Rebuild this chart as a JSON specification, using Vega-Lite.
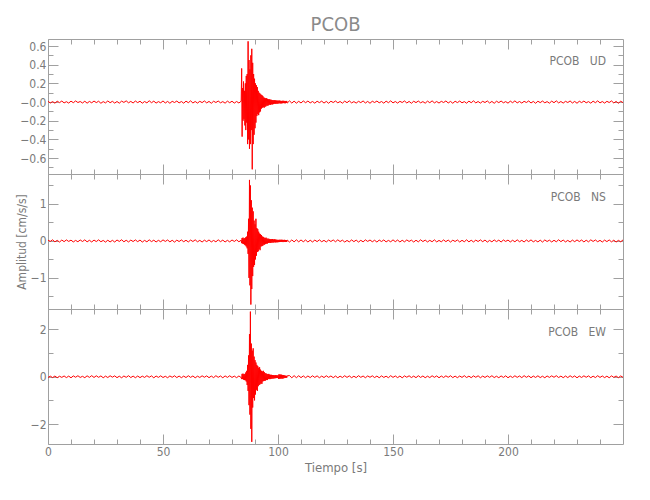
{
"$schema": "https://vega.github.io/schema/vega-lite/v6.json",
"padding": {"left": 15, "top": 14, "right": 5, "bottom": 5},
"background": "white",
"spacing": 0,
"bounds": "flush",
"config": {
 "font": "Liberation Sans Narrow, DejaVu Sans Condensed, sans-serif",
 "view": {"stroke": null},
 "axis": {"grid": false, "minExtent": 0, "domainColor": "#a0a0a0", "tickColor": "#a0a0a0", "labelColor": "#7a7a7a", "labelFontSize": 12, "labelFont": "Liberation Sans Narrow, DejaVu Sans Condensed, sans-serif", "titleFont": "Liberation Sans Narrow, DejaVu Sans Condensed, sans-serif", "titleColor": "#7a7a7a", "titleFontSize": 13, "titleFontWeight": "normal", "labelFlush": false, "labelOverlap": false}
},
"data": {"values": [
{"t":0,"u":0.008,"n":0.021,"e":-0.033},
{"t":1,"u":-0.010,"n":-0.012,"e":0.024},
{"t":2,"u":0.005,"n":0.031,"e":-0.036},
{"t":3,"u":-0.012,"n":-0.024,"e":0.030},
{"t":4,"u":0.009,"n":0.016,"e":-0.042},
{"t":5,"u":-0.006,"n":-0.030,"e":0.021},
{"t":6,"u":0.011,"n":0.025,"e":-0.028},
{"t":7,"u":-0.009,"n":-0.019,"e":0.033},
{"t":8,"u":0.004,"n":0.028,"e":-0.037},
{"t":9,"u":-0.011,"n":-0.013,"e":0.027},
{"t":10,"u":0.010,"n":0.022,"e":-0.045},
{"t":11,"u":-0.007,"n":-0.027,"e":0.036},
{"t":12,"u":0.012,"n":0.015,"e":-0.022},
{"t":13,"u":-0.005,"n":-0.022,"e":0.042},
{"t":14,"u":0.006,"n":0.027,"e":-0.030},
{"t":15,"u":-0.010,"n":-0.015,"e":0.018},
{"t":16,"u":0.009,"n":0.030,"e":-0.040},
{"t":17,"u":-0.012,"n":-0.025,"e":0.039},
{"t":18,"u":0.007,"n":0.018,"e":-0.027},
{"t":19,"u":-0.008,"n":-0.028,"e":0.045},
{"t":20,"u":0.011,"n":0.024,"e":-0.031},
{"t":21,"u":-0.006,"n":-0.017,"e":0.040},
{"t":22,"u":0.009,"n":0.029,"e":-0.025},
{"t":23,"u":-0.013,"n":-0.021,"e":0.035},
{"t":24,"u":0.005,"n":0.014,"e":-0.044},
{"t":25,"u":-0.009,"n":-0.031,"e":0.026},
{"t":26,"u":0.012,"n":0.020,"e":-0.034},
{"t":27,"u":-0.007,"n":-0.026,"e":0.041},
{"t":28,"u":0.008,"n":0.017,"e":-0.019},
{"t":29,"u":-0.011,"n":-0.029,"e":0.037},
{"t":30,"u":0.006,"n":0.026,"e":-0.039},
{"t":31,"u":-0.012,"n":-0.014,"e":0.023},
{"t":32,"u":0.010,"n":0.032,"e":-0.043},
{"t":33,"u":-0.004,"n":-0.023,"e":0.032},
{"t":34,"u":0.013,"n":0.019,"e":-0.026},
{"t":35,"u":-0.008,"n":-0.027,"e":0.044},
{"t":36,"u":0.007,"n":0.023,"e":-0.035},
{"t":37,"u":-0.010,"n":-0.016,"e":0.028},
{"t":38,"u":0.011,"n":0.028,"e":-0.041},
{"t":39,"u":-0.006,"n":-0.020,"e":0.030},
{"t":40,"u":0.009,"n":0.025,"e":-0.038},
{"t":41,"u":-0.012,"n":-0.030,"e":0.025},
{"t":42,"u":0.006,"n":0.015,"e":-0.029},
{"t":43,"u":-0.009,"n":-0.024,"e":0.043},
{"t":44,"u":0.014,"n":0.030,"e":-0.024},
{"t":45,"u":-0.007,"n":-0.018,"e":0.036},
{"t":46,"u":0.010,"n":0.021,"e":-0.046},
{"t":47,"u":-0.011,"n":-0.028,"e":0.031},
{"t":48,"u":0.005,"n":0.017,"e":-0.027},
{"t":49,"u":-0.008,"n":-0.022,"e":0.038},
{"t":50,"u":0.012,"n":0.029,"e":-0.033},
{"t":51,"u":-0.010,"n":-0.013,"e":0.020},
{"t":52,"u":0.007,"n":0.026,"e":-0.042},
{"t":53,"u":-0.013,"n":-0.025,"e":0.034},
{"t":54,"u":0.008,"n":0.018,"e":-0.023},
{"t":55,"u":-0.005,"n":-0.031,"e":0.040},
{"t":56,"u":0.011,"n":0.022,"e":-0.036},
{"t":57,"u":-0.009,"n":-0.016,"e":0.029},
{"t":58,"u":0.006,"n":0.027,"e":-0.040},
{"t":59,"u":-0.012,"n":-0.021,"e":0.026},
{"t":60,"u":0.010,"n":0.019,"e":-0.034},
{"t":61,"u":-0.007,"n":-0.027,"e":0.042},
{"t":62,"u":0.013,"n":0.024,"e":-0.027},
{"t":63,"u":-0.010,"n":-0.015,"e":0.033},
{"t":64,"u":0.006,"n":0.030,"e":-0.045},
{"t":65,"u":-0.011,"n":-0.023,"e":0.024},
{"t":66,"u":0.008,"n":0.016,"e":-0.031},
{"t":67,"u":-0.006,"n":-0.029,"e":0.039},
{"t":68,"u":0.012,"n":0.021,"e":-0.022},
{"t":69,"u":-0.009,"n":-0.018,"e":0.036},
{"t":70,"u":0.007,"n":0.028,"e":-0.040},
{"t":71,"u":-0.013,"n":-0.026,"e":0.028},
{"t":72,"u":0.009,"n":0.014,"e":-0.037},
{"t":73,"u":-0.005,"n":-0.024,"e":0.044},
{"t":74,"u":0.011,"n":0.031,"e":-0.025},
{"t":75,"u":-0.008,"n":-0.019,"e":0.032},
{"t":76,"u":0.005,"n":0.023,"e":-0.043},
{"t":77,"u":-0.012,"n":-0.028,"e":0.035},
{"t":78,"u":0.010,"n":0.017,"e":-0.028},
{"t":79,"u":-0.007,"n":-0.025,"e":0.041},
{"t":80,"u":0.009,"n":0.026,"e":-0.030},
{"t":81,"u":-0.011,"n":-0.014,"e":0.026},
{"t":82,"u":0.006,"n":0.029,"e":-0.039},
{"t":83,"u":-0.010,"n":-0.022,"e":0.033},
{"t":84.0,"u":0.010,"n":0.020,"e":-0.035},
{"t":84.2,"u":0.360,"n":-0.060,"e":-0.100},
{"t":84.4,"u":-0.370,"n":0.080,"e":0.120},
{"t":84.6,"u":0.150,"n":-0.070,"e":-0.100},
{"t":84.8,"u":-0.200,"n":0.090,"e":0.130},
{"t":85.0,"u":0.220,"n":-0.080,"e":-0.120},
{"t":85.2,"u":-0.180,"n":0.060,"e":0.100},
{"t":85.4,"u":0.120,"n":-0.100,"e":-0.140},
{"t":85.6,"u":-0.250,"n":0.080,"e":0.120},
{"t":85.8,"u":0.200,"n":-0.120,"e":-0.150},
{"t":86.0,"u":-0.300,"n":0.100,"e":0.180},
{"t":86.2,"u":0.280,"n":-0.150,"e":-0.200},
{"t":86.4,"u":-0.220,"n":0.120,"e":0.250},
{"t":86.6,"u":0.300,"n":-0.200,"e":-0.350},
{"t":86.8,"u":-0.450,"n":0.250,"e":0.500},
{"t":87.0,"u":0.650,"n":-0.350,"e":-0.600},
{"t":87.2,"u":-0.400,"n":0.600,"e":0.900},
{"t":87.4,"u":0.450,"n":-1.000,"e":-1.200},
{"t":87.6,"u":-0.500,"n":1.650,"e":1.800},
{"t":87.8,"u":0.350,"n":-1.200,"e":-1.600},
{"t":88.0,"u":-0.450,"n":1.500,"e":2.750},
{"t":88.2,"u":0.500,"n":-1.720,"e":-2.200},
{"t":88.4,"u":-0.300,"n":1.100,"e":1.400},
{"t":88.6,"u":0.570,"n":-1.300,"e":-2.750},
{"t":88.8,"u":-0.720,"n":0.900,"e":1.100},
{"t":89.0,"u":0.420,"n":-0.950,"e":-1.300},
{"t":89.2,"u":-0.450,"n":0.800,"e":1.200},
{"t":89.4,"u":0.300,"n":-0.700,"e":-0.900},
{"t":89.6,"u":-0.350,"n":0.550,"e":0.850},
{"t":89.8,"u":0.250,"n":-0.650,"e":-1.000},
{"t":90.0,"u":-0.280,"n":0.450,"e":0.700},
{"t":90.2,"u":0.200,"n":-0.500,"e":-0.750},
{"t":90.4,"u":-0.220,"n":0.600,"e":0.600},
{"t":90.6,"u":0.180,"n":-0.400,"e":-0.550},
{"t":90.8,"u":-0.150,"n":0.350,"e":0.500},
{"t":91.0,"u":0.160,"n":-0.300,"e":-0.600},
{"t":91.2,"u":-0.130,"n":0.320,"e":0.450},
{"t":91.4,"u":0.120,"n":-0.280,"e":-0.400},
{"t":91.6,"u":-0.140,"n":0.250,"e":0.380},
{"t":91.8,"u":0.100,"n":-0.220,"e":-0.350},
{"t":92.0,"u":-0.110,"n":0.200,"e":0.400},
{"t":92.2,"u":0.090,"n":-0.250,"e":-0.320},
{"t":92.4,"u":-0.100,"n":0.180,"e":0.300},
{"t":92.6,"u":0.080,"n":-0.150,"e":-0.280},
{"t":92.8,"u":-0.070,"n":0.160,"e":0.250},
{"t":93.0,"u":0.075,"n":-0.140,"e":-0.300},
{"t":93.2,"u":-0.060,"n":0.120,"e":0.220},
{"t":93.4,"u":0.065,"n":-0.130,"e":-0.200},
{"t":93.6,"u":-0.055,"n":0.110,"e":0.250},
{"t":93.8,"u":0.050,"n":-0.100,"e":-0.180},
{"t":94.0,"u":-0.060,"n":0.090,"e":0.200},
{"t":94.2,"u":0.045,"n":-0.100,"e":-0.170},
{"t":94.4,"u":-0.050,"n":0.080,"e":0.150},
{"t":94.6,"u":0.040,"n":-0.080,"e":-0.160},
{"t":94.8,"u":-0.045,"n":0.090,"e":0.140},
{"t":95.0,"u":0.040,"n":-0.070,"e":-0.130},
{"t":95.2,"u":-0.035,"n":0.065,"e":0.120},
{"t":95.4,"u":0.035,"n":-0.070,"e":-0.140},
{"t":95.6,"u":-0.040,"n":0.060,"e":0.110},
{"t":95.8,"u":0.030,"n":-0.055,"e":-0.100},
{"t":96.0,"u":-0.032,"n":0.060,"e":0.120},
{"t":96.2,"u":0.030,"n":-0.050,"e":-0.100},
{"t":96.4,"u":-0.028,"n":0.050,"e":0.090},
{"t":96.6,"u":0.026,"n":-0.055,"e":-0.100},
{"t":96.8,"u":-0.030,"n":0.045,"e":0.080},
{"t":97.0,"u":0.025,"n":-0.050,"e":-0.090},
{"t":97.2,"u":-0.024,"n":0.045,"e":0.080},
{"t":97.4,"u":0.022,"n":-0.040,"e":-0.075},
{"t":97.6,"u":-0.025,"n":0.050,"e":0.070},
{"t":97.8,"u":0.020,"n":-0.045,"e":-0.080},
{"t":98.0,"u":-0.022,"n":0.040,"e":0.065},
{"t":98.2,"u":0.020,"n":-0.040,"e":-0.070},
{"t":98.4,"u":-0.018,"n":0.045,"e":0.060},
{"t":98.6,"u":0.020,"n":-0.035,"e":-0.065},
{"t":98.8,"u":-0.019,"n":0.040,"e":0.070},
{"t":99.0,"u":0.018,"n":-0.040,"e":-0.060},
{"t":99.2,"u":-0.017,"n":0.035,"e":0.065},
{"t":99.4,"u":0.016,"n":-0.035,"e":-0.055},
{"t":99.6,"u":-0.018,"n":0.030,"e":0.060},
{"t":99.8,"u":0.015,"n":-0.035,"e":-0.050},
{"t":100.0,"u":-0.016,"n":0.030,"e":0.055},
{"t":100.2,"u":0.015,"n":-0.032,"e":-0.090},
{"t":100.4,"u":-0.014,"n":0.028,"e":0.100},
{"t":100.6,"u":0.016,"n":-0.030,"e":-0.085},
{"t":100.8,"u":-0.013,"n":0.033,"e":0.095},
{"t":101.0,"u":0.014,"n":-0.027,"e":-0.080},
{"t":101.2,"u":-0.015,"n":0.030,"e":0.090},
{"t":101.4,"u":0.012,"n":-0.028,"e":-0.075},
{"t":101.6,"u":-0.014,"n":0.032,"e":0.085},
{"t":101.8,"u":0.013,"n":-0.026,"e":-0.080},
{"t":102.0,"u":-0.012,"n":0.029,"e":0.070},
{"t":102.2,"u":0.014,"n":-0.031,"e":-0.075},
{"t":102.4,"u":-0.011,"n":0.027,"e":0.065},
{"t":102.6,"u":0.013,"n":-0.025,"e":-0.060},
{"t":102.8,"u":-0.012,"n":0.030,"e":0.055},
{"t":103.0,"u":0.011,"n":-0.028,"e":-0.050},
{"t":103.2,"u":-0.013,"n":0.026,"e":0.045},
{"t":103.4,"u":0.012,"n":-0.029,"e":-0.050},
{"t":103.6,"u":-0.010,"n":0.024,"e":0.040},
{"t":103.8,"u":0.012,"n":-0.027,"e":-0.042},
{"t":104.0,"u":-0.011,"n":0.025,"e":0.038},
{"t":105,"u":0.013,"n":-0.030,"e":0.048},
{"t":106,"u":-0.011,"n":0.028,"e":-0.044},
{"t":107,"u":0.010,"n":-0.025,"e":0.046},
{"t":108,"u":-0.012,"n":0.031,"e":-0.040},
{"t":109,"u":0.008,"n":-0.024,"e":0.042},
{"t":110,"u":-0.010,"n":0.027,"e":-0.038},
{"t":111,"u":0.012,"n":-0.022,"e":0.035},
{"t":112,"u":-0.007,"n":0.026,"e":-0.041},
{"t":113,"u":0.011,"n":-0.029,"e":0.033},
{"t":114,"u":-0.009,"n":0.020,"e":-0.036},
{"t":115,"u":0.006,"n":-0.027,"e":0.040},
{"t":116,"u":-0.012,"n":0.023,"e":-0.029},
{"t":117,"u":0.009,"n":-0.018,"e":0.037},
{"t":118,"u":-0.006,"n":0.029,"e":-0.043},
{"t":119,"u":0.010,"n":-0.021,"e":0.027},
{"t":120,"u":-0.011,"n":0.016,"e":-0.034},
{"t":121,"u":0.007,"n":-0.028,"e":0.041},
{"t":122,"u":-0.013,"n":0.024,"e":-0.026},
{"t":123,"u":0.009,"n":-0.015,"e":0.032},
{"t":124,"u":-0.005,"n":0.027,"e":-0.039},
{"t":125,"u":0.011,"n":-0.022,"e":0.030},
{"t":126,"u":-0.008,"n":0.030,"e":-0.044},
{"t":127,"u":0.006,"n":-0.017,"e":0.025},
{"t":128,"u":-0.012,"n":0.021,"e":-0.033},
{"t":129,"u":0.010,"n":-0.029,"e":0.042},
{"t":130,"u":-0.007,"n":0.014,"e":-0.028},
{"t":131,"u":0.013,"n":-0.025,"e":0.036},
{"t":132,"u":-0.009,"n":0.028,"e":-0.040},
{"t":133,"u":0.005,"n":-0.019,"e":0.022},
{"t":134,"u":-0.011,"n":0.023,"e":-0.037},
{"t":135,"u":0.008,"n":-0.030,"e":0.045},
{"t":136,"u":-0.006,"n":0.017,"e":-0.026},
{"t":137,"u":0.012,"n":-0.024,"e":0.031},
{"t":138,"u":-0.010,"n":0.029,"e":-0.042},
{"t":139,"u":0.007,"n":-0.013,"e":0.034},
{"t":140,"u":-0.013,"n":0.026,"e":-0.024},
{"t":141,"u":0.009,"n":-0.022,"e":0.039},
{"t":142,"u":-0.005,"n":0.019,"e":-0.035},
{"t":143,"u":0.011,"n":-0.031,"e":0.028},
{"t":144,"u":-0.008,"n":0.024,"e":-0.043},
{"t":145,"u":0.006,"n":-0.016,"e":0.037},
{"t":146,"u":-0.012,"n":0.028,"e":-0.030},
{"t":147,"u":0.010,"n":-0.026,"e":0.023},
{"t":148,"u":-0.007,"n":0.015,"e":-0.040},
{"t":149,"u":0.013,"n":-0.023,"e":0.044},
{"t":150,"u":-0.009,"n":0.030,"e":-0.027},
{"t":151,"u":0.006,"n":-0.020,"e":0.033},
{"t":152,"u":-0.011,"n":0.025,"e":-0.038},
{"t":153,"u":0.008,"n":-0.028,"e":0.029},
{"t":154,"u":-0.005,"n":0.018,"e":-0.045},
{"t":155,"u":0.012,"n":-0.024,"e":0.036},
{"t":156,"u":-0.010,"n":0.027,"e":-0.022},
{"t":157,"u":0.007,"n":-0.014,"e":0.040},
{"t":158,"u":-0.013,"n":0.022,"e":-0.034},
{"t":159,"u":0.009,"n":-0.029,"e":0.026},
{"t":160,"u":-0.006,"n":0.020,"e":-0.039},
{"t":161,"u":0.011,"n":-0.025,"e":0.043},
{"t":162,"u":-0.008,"n":0.031,"e":-0.029},
{"t":163,"u":0.005,"n":-0.017,"e":0.032},
{"t":164,"u":-0.012,"n":0.023,"e":-0.041},
{"t":165,"u":0.010,"n":-0.027,"e":0.024},
{"t":166,"u":-0.007,"n":0.016,"e":-0.036},
{"t":167,"u":0.013,"n":-0.021,"e":0.041},
{"t":168,"u":-0.009,"n":0.029,"e":-0.025},
{"t":169,"u":0.006,"n":-0.026,"e":0.035},
{"t":170,"u":-0.011,"n":0.014,"e":-0.044},
{"t":171,"u":0.008,"n":-0.023,"e":0.030},
{"t":172,"u":-0.005,"n":0.028,"e":-0.032},
{"t":173,"u":0.012,"n":-0.019,"e":0.038},
{"t":174,"u":-0.010,"n":0.024,"e":-0.023},
{"t":175,"u":0.007,"n":-0.030,"e":0.042},
{"t":176,"u":-0.013,"n":0.021,"e":-0.037},
{"t":177,"u":0.009,"n":-0.015,"e":0.027},
{"t":178,"u":-0.006,"n":0.026,"e":-0.040},
{"t":179,"u":0.011,"n":-0.028,"e":0.031},
{"t":180,"u":-0.008,"n":0.017,"e":-0.028},
{"t":181,"u":0.005,"n":-0.022,"e":0.044},
{"t":182,"u":-0.012,"n":0.030,"e":-0.033},
{"t":183,"u":0.010,"n":-0.024,"e":0.025},
{"t":184,"u":-0.007,"n":0.019,"e":-0.039},
{"t":185,"u":0.013,"n":-0.027,"e":0.036},
{"t":186,"u":-0.009,"n":0.023,"e":-0.024},
{"t":187,"u":0.006,"n":-0.016,"e":0.040},
{"t":188,"u":-0.011,"n":0.029,"e":-0.043},
{"t":189,"u":0.008,"n":-0.020,"e":0.028},
{"t":190,"u":-0.005,"n":0.025,"e":-0.031},
{"t":191,"u":0.012,"n":-0.031,"e":0.037},
{"t":192,"u":-0.010,"n":0.015,"e":-0.026},
{"t":193,"u":0.007,"n":-0.024,"e":0.043},
{"t":194,"u":-0.013,"n":0.028,"e":-0.035},
{"t":195,"u":0.009,"n":-0.018,"e":0.022},
{"t":196,"u":-0.006,"n":0.022,"e":-0.041},
{"t":197,"u":0.011,"n":-0.029,"e":0.034},
{"t":198,"u":-0.008,"n":0.026,"e":-0.029},
{"t":199,"u":0.005,"n":-0.013,"e":0.039},
{"t":200,"u":-0.012,"n":0.024,"e":-0.044},
{"t":201,"u":0.010,"n":-0.027,"e":0.026},
{"t":202,"u":-0.007,"n":0.019,"e":-0.033},
{"t":203,"u":0.013,"n":-0.023,"e":0.041},
{"t":204,"u":-0.009,"n":0.030,"e":-0.027},
{"t":205,"u":0.006,"n":-0.021,"e":0.032},
{"t":206,"u":-0.011,"n":0.016,"e":-0.038},
{"t":207,"u":0.008,"n":-0.028,"e":0.045},
{"t":208,"u":-0.005,"n":0.025,"e":-0.025},
{"t":209,"u":0.012,"n":-0.017,"e":0.035},
{"t":210,"u":-0.010,"n":0.029,"e":-0.042},
{"t":211,"u":0.007,"n":-0.024,"e":0.029},
{"t":212,"u":-0.013,"n":0.014,"e":-0.030},
{"t":213,"u":0.009,"n":-0.026,"e":0.040},
{"t":214,"u":-0.006,"n":0.022,"e":-0.036},
{"t":215,"u":0.011,"n":-0.030,"e":0.023},
{"t":216,"u":-0.008,"n":0.027,"e":-0.043},
{"t":217,"u":0.005,"n":-0.015,"e":0.033},
{"t":218,"u":-0.012,"n":0.021,"e":-0.028},
{"t":219,"u":0.010,"n":-0.028,"e":0.038},
{"t":220,"u":-0.007,"n":0.018,"e":-0.024},
{"t":221,"u":0.013,"n":-0.023,"e":0.044},
{"t":222,"u":-0.009,"n":0.031,"e":-0.034},
{"t":223,"u":0.006,"n":-0.019,"e":0.027},
{"t":224,"u":-0.011,"n":0.024,"e":-0.040},
{"t":225,"u":0.008,"n":-0.026,"e":0.031},
{"t":226,"u":-0.005,"n":0.015,"e":-0.037},
{"t":227,"u":0.012,"n":-0.029,"e":0.042},
{"t":228,"u":-0.010,"n":0.023,"e":-0.026},
{"t":229,"u":0.007,"n":-0.020,"e":0.034},
{"t":230,"u":-0.013,"n":0.028,"e":-0.045},
{"t":231,"u":0.009,"n":-0.016,"e":0.028},
{"t":232,"u":-0.006,"n":0.025,"e":-0.031},
{"t":233,"u":0.011,"n":-0.027,"e":0.039},
{"t":234,"u":-0.008,"n":0.020,"e":-0.023},
{"t":235,"u":0.005,"n":-0.024,"e":0.036},
{"t":236,"u":-0.012,"n":0.030,"e":-0.041},
{"t":237,"u":0.010,"n":-0.014,"e":0.025},
{"t":238,"u":-0.007,"n":0.026,"e":-0.035},
{"t":239,"u":0.013,"n":-0.022,"e":0.043},
{"t":240,"u":-0.009,"n":0.017,"e":-0.029},
{"t":241,"u":0.006,"n":-0.029,"e":0.032},
{"t":242,"u":-0.011,"n":0.023,"e":-0.038},
{"t":243,"u":0.008,"n":-0.018,"e":0.024},
{"t":244,"u":-0.005,"n":0.027,"e":-0.044},
{"t":245,"u":0.012,"n":-0.025,"e":0.037},
{"t":246,"u":-0.010,"n":0.021,"e":-0.027},
{"t":247,"u":0.007,"n":-0.030,"e":0.030},
{"t":248,"u":-0.013,"n":0.016,"e":-0.040},
{"t":249,"u":0.009,"n":-0.023,"e":0.034},
{"t":250,"u":-0.006,"n":0.028,"e":-0.026}
]},
"vconcat": [
{
 "width": 575, "height": 135,
 "title": {"text": "PCOB", "frame": "group", "anchor": "middle", "offset": -12, "fontSize": 20, "color": "#8a8a8a", "fontWeight": "normal", "baseline": "alphabetic", "font": "Liberation Sans Narrow, DejaVu Sans Condensed, sans-serif"},
 "resolve": {"axis": {"x": "independent", "y": "independent"}},
 "layer": [
  {"mark": {"type": "line", "color": "#ff0000", "strokeWidth": 1, "clip": true},
   "encoding": {
    "x": {"field": "t", "type": "quantitative", "scale": {"domain": [0, 250], "nice": false, "zero": false},
          "axis": {"orient": "bottom", "values": [0, 50, 100, 150, 200], "labels": false, "tickSize": -10, "title": null}},
    "y": {"field": "u", "type": "quantitative", "scale": {"domain": [-0.77, 0.675], "nice": false, "zero": false},
          "axis": {"orient": "left", "values": [-0.6, -0.4, -0.2, 0, 0.2, 0.4, 0.6], "labelExpr": "datum.value == 0 ? '\u22120.0' : format(datum.value, '.1f')", "tickSize": -10, "labelPadding": 12, "title": null}}
   }},
  {"data": {"values": [{}]}, "mark": {"type": "point", "opacity": 0},
   "encoding": {
    "x": {"datum": 0, "type": "quantitative", "axis": {"orient": "top", "values": [0, 50, 100, 150, 200], "labels": false, "tickSize": -10, "title": null}},
    "y": {"datum": 0, "type": "quantitative", "axis": {"orient": "right", "values": [-0.6, -0.4, -0.2, 0, 0.2, 0.4, 0.6], "labels": false, "tickSize": -10, "title": null}}
   }},
  {"data": {"values": [{}]}, "mark": {"type": "point", "opacity": 0},
   "encoding": {
    "x": {"datum": 0, "type": "quantitative", "axis": {"orient": "bottom", "values": [10, 20, 30, 40, 60, 70, 80, 90, 110, 120, 130, 140, 160, 170, 180, 190, 210, 220, 230, 240], "labels": false, "domain": false, "tickSize": -5, "title": null}},
    "y": {"datum": 0, "type": "quantitative", "axis": {"orient": "left", "values": [-0.7, -0.5, -0.3, -0.1, 0.1, 0.3, 0.5], "labels": false, "domain": false, "tickSize": -5, "title": null}}
   }},
  {"data": {"values": [{}]}, "mark": {"type": "point", "opacity": 0},
   "encoding": {
    "x": {"datum": 0, "type": "quantitative", "axis": {"orient": "top", "values": [10, 20, 30, 40, 60, 70, 80, 90, 110, 120, 130, 140, 160, 170, 180, 190, 210, 220, 230, 240], "labels": false, "domain": false, "tickSize": -5, "title": null}},
    "y": {"datum": 0, "type": "quantitative", "axis": {"orient": "right", "values": [-0.7, -0.5, -0.3, -0.1, 0.1, 0.3, 0.5], "labels": false, "domain": false, "tickSize": -5, "title": null}}
   }},
  {"data": {"values": [{}]}, "mark": {"type": "text", "text": "PCOB\u00a0\u00a0\u00a0UD", "align": "right", "baseline": "middle", "fontSize": 12, "color": "#7a7a7a"},
   "encoding": {
    "x": {"datum": 242.6, "type": "quantitative", "axis": null},
    "y": {"datum": 0.437, "type": "quantitative", "axis": null}
   }}
 ]
},
{
 "width": 575, "height": 135,
 "resolve": {"axis": {"x": "independent", "y": "independent"}},
 "layer": [
  {"mark": {"type": "line", "color": "#ff0000", "strokeWidth": 1, "clip": true},
   "encoding": {
    "x": {"field": "t", "type": "quantitative", "scale": {"domain": [0, 250], "nice": false, "zero": false},
          "axis": {"orient": "bottom", "values": [0, 50, 100, 150, 200], "labels": false, "tickSize": -10, "title": null}},
    "y": {"field": "n", "type": "quantitative", "scale": {"domain": [-1.84, 1.81], "nice": false, "zero": false},
          "axis": {"orient": "left", "values": [-1, 0, 1], "tickSize": -10, "labelPadding": 12, "title": "Amplitud [cm/s/s]", "titleFontSize": 12, "titlePadding": 2}}
   }},
  {"data": {"values": [{}]}, "mark": {"type": "point", "opacity": 0},
   "encoding": {
    "x": {"datum": 0, "type": "quantitative", "axis": {"orient": "top", "values": [0, 50, 100, 150, 200], "labels": false, "tickSize": -10, "title": null}},
    "y": {"datum": 0, "type": "quantitative", "axis": {"orient": "right", "values": [-1, 0, 1], "labels": false, "tickSize": -10, "title": null}}
   }},
  {"data": {"values": [{}]}, "mark": {"type": "point", "opacity": 0},
   "encoding": {
    "x": {"datum": 0, "type": "quantitative", "axis": {"orient": "bottom", "values": [10, 20, 30, 40, 60, 70, 80, 90, 110, 120, 130, 140, 160, 170, 180, 190, 210, 220, 230, 240], "labels": false, "domain": false, "tickSize": -5, "title": null}},
    "y": {"datum": 0, "type": "quantitative", "axis": {"orient": "left", "values": [-1.5, -0.5, 0.5, 1.5], "labels": false, "domain": false, "tickSize": -5, "title": null}}
   }},
  {"data": {"values": [{}]}, "mark": {"type": "point", "opacity": 0},
   "encoding": {
    "x": {"datum": 0, "type": "quantitative", "axis": {"orient": "top", "values": [10, 20, 30, 40, 60, 70, 80, 90, 110, 120, 130, 140, 160, 170, 180, 190, 210, 220, 230, 240], "labels": false, "domain": false, "tickSize": -5, "title": null}},
    "y": {"datum": 0, "type": "quantitative", "axis": {"orient": "right", "values": [-1.5, -0.5, 0.5, 1.5], "labels": false, "domain": false, "tickSize": -5, "title": null}}
   }},
  {"data": {"values": [{}]}, "mark": {"type": "text", "text": "PCOB\u00a0\u00a0\u00a0NS", "align": "right", "baseline": "middle", "fontSize": 12, "color": "#7a7a7a"},
   "encoding": {
    "x": {"datum": 242.6, "type": "quantitative", "axis": null},
    "y": {"datum": 1.2, "type": "quantitative", "axis": null}
   }}
 ]
},
{
 "width": 575, "height": 135,
 "resolve": {"axis": {"x": "independent", "y": "independent"}},
 "layer": [
  {"mark": {"type": "line", "color": "#ff0000", "strokeWidth": 1, "clip": true},
   "encoding": {
    "x": {"field": "t", "type": "quantitative", "scale": {"domain": [0, 250], "nice": false, "zero": false},
          "axis": {"orient": "bottom", "values": [0, 50, 100, 150, 200], "tickSize": -10, "labelPadding": 12, "title": "Tiempo [s]", "titlePadding": 4}},
    "y": {"field": "e", "type": "quantitative", "scale": {"domain": [-2.84, 2.86], "nice": false, "zero": false},
          "axis": {"orient": "left", "values": [-2, 0, 2], "tickSize": -10, "labelPadding": 12, "title": null}}
   }},
  {"data": {"values": [{}]}, "mark": {"type": "point", "opacity": 0},
   "encoding": {
    "x": {"datum": 0, "type": "quantitative", "axis": {"orient": "top", "values": [0, 50, 100, 150, 200], "labels": false, "tickSize": -10, "title": null}},
    "y": {"datum": 0, "type": "quantitative", "axis": {"orient": "right", "values": [-2, 0, 2], "labels": false, "tickSize": -10, "title": null}}
   }},
  {"data": {"values": [{}]}, "mark": {"type": "point", "opacity": 0},
   "encoding": {
    "x": {"datum": 0, "type": "quantitative", "axis": {"orient": "bottom", "values": [10, 20, 30, 40, 60, 70, 80, 90, 110, 120, 130, 140, 160, 170, 180, 190, 210, 220, 230, 240], "labels": false, "domain": false, "tickSize": -5, "title": null}},
    "y": {"datum": 0, "type": "quantitative", "axis": {"orient": "left", "values": [-1, 1], "labels": false, "domain": false, "tickSize": -5, "title": null}}
   }},
  {"data": {"values": [{}]}, "mark": {"type": "point", "opacity": 0},
   "encoding": {
    "x": {"datum": 0, "type": "quantitative", "axis": {"orient": "top", "values": [10, 20, 30, 40, 60, 70, 80, 90, 110, 120, 130, 140, 160, 170, 180, 190, 210, 220, 230, 240], "labels": false, "domain": false, "tickSize": -5, "title": null}},
    "y": {"datum": 0, "type": "quantitative", "axis": {"orient": "right", "values": [-1, 1], "labels": false, "domain": false, "tickSize": -5, "title": null}}
   }},
  {"data": {"values": [{}]}, "mark": {"type": "text", "text": "PCOB\u00a0\u00a0\u00a0EW", "align": "right", "baseline": "middle", "fontSize": 12, "color": "#7a7a7a"},
   "encoding": {
    "x": {"datum": 242.6, "type": "quantitative", "axis": null},
    "y": {"datum": 1.91, "type": "quantitative", "axis": null}
   }}
 ]
}
]
}
